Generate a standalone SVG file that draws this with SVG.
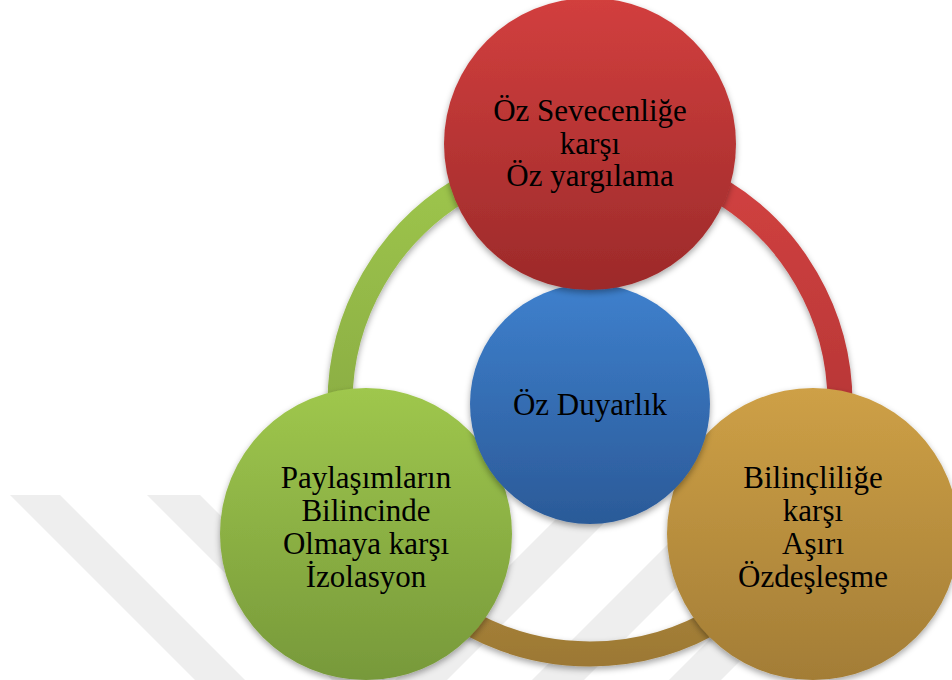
<svg xmlns="http://www.w3.org/2000/svg" width="952" height="680" viewBox="0 0 952 680">
  <style>
    .lbl { font-family: "Liberation Serif", "Times New Roman", serif; font-size: 31px; fill: #000; text-anchor: middle; }
    .wm { fill: #eeeeee; }
    .ring { fill: none; stroke-width: 25; }
  </style>
  <defs>
    <filter id="sh" x="-20%" y="-20%" width="140%" height="140%">
      <feDropShadow dx="0" dy="3" stdDeviation="3" flood-color="#000" flood-opacity="0.35"/>
    </filter>
    <linearGradient id="gRed" x1="0" y1="0" x2="0" y2="1">
      <stop offset="0" stop-color="#d23f3e"/>
      <stop offset="1" stop-color="#9c2a2a"/>
    </linearGradient>
    <linearGradient id="gBlue" x1="0" y1="0" x2="0" y2="1">
      <stop offset="0" stop-color="#3e80cd"/>
      <stop offset="1" stop-color="#2b5a98"/>
    </linearGradient>
    <linearGradient id="gGreen" x1="0" y1="0" x2="0" y2="1">
      <stop offset="0" stop-color="#9fc74d"/>
      <stop offset="1" stop-color="#77993a"/>
    </linearGradient>
    <linearGradient id="gGold" x1="0" y1="0" x2="0" y2="1">
      <stop offset="0" stop-color="#cea046"/>
      <stop offset="1" stop-color="#a37d36"/>
    </linearGradient>
    <linearGradient id="aGreen" gradientUnits="userSpaceOnUse" x1="0" y1="154" x2="0" y2="534">
      <stop offset="0" stop-color="#9fc74d"/>
      <stop offset="1" stop-color="#82a23e"/>
    </linearGradient>
    <linearGradient id="aRed" gradientUnits="userSpaceOnUse" x1="0" y1="154" x2="0" y2="534">
      <stop offset="0" stop-color="#d34241"/>
      <stop offset="1" stop-color="#ab3131"/>
    </linearGradient>
    <linearGradient id="aGold" gradientUnits="userSpaceOnUse" x1="0" y1="520" x2="0" y2="665">
      <stop offset="0" stop-color="#b38d3e"/>
      <stop offset="1" stop-color="#9c7834"/>
    </linearGradient>
  </defs>

  <g id="watermark">
    <polygon class="wm" points="10,495 60,495 245,680 195,680"/>
    <polygon class="wm" points="147,495 200,495 385,680 332,680"/>
    <polygon class="wm" points="580,495 632,495 447,680 395,680"/>
    <polygon class="wm" points="717,495 769,495 584,680 532,680"/>
    <polygon class="wm" points="854,495 906,495 721,680 669,680"/>
  </g>

  <g id="connectors" filter="url(#sh)">
    <path class="ring" stroke="url(#aRed)" d="M 590 154 A 250 250 0 0 1 806.5 529"/>
    <path class="ring" stroke="url(#aGold)" d="M 806.5 529 A 250 250 0 0 1 373.5 529"/>
    <path class="ring" stroke="url(#aGreen)" d="M 373.5 529 A 250 250 0 0 1 590 154"/>
  </g>

  <g id="node-green">
    <circle cx="366" cy="534" r="146" fill="url(#gGreen)" filter="url(#sh)"/>
    <text class="lbl" x="366" y="488">Paylaşımların</text>
    <text class="lbl" x="366" y="521">Bilincinde</text>
    <text class="lbl" x="366" y="554">Olmaya karşı</text>
    <text class="lbl" x="366" y="587">İzolasyon</text>
  </g>

  <g id="node-gold">
    <circle cx="813" cy="534" r="146" fill="url(#gGold)" filter="url(#sh)"/>
    <text class="lbl" x="813" y="488">Bilinçliliğe</text>
    <text class="lbl" x="813" y="521">karşı</text>
    <text class="lbl" x="813" y="554">Aşırı</text>
    <text class="lbl" x="813" y="587">Özdeşleşme</text>
  </g>

  <g id="node-center">
    <circle cx="590" cy="404" r="120" fill="url(#gBlue)" filter="url(#sh)"/>
    <text class="lbl" x="590" y="415">Öz Duyarlık</text>
  </g>

  <g id="node-red">
    <circle cx="590" cy="144" r="146" fill="url(#gRed)" filter="url(#sh)"/>
    <text class="lbl" x="590" y="121">Öz Sevecenliğe</text>
    <text class="lbl" x="590" y="154">karşı</text>
    <text class="lbl" x="590" y="186">Öz yargılama</text>
  </g>
</svg>
